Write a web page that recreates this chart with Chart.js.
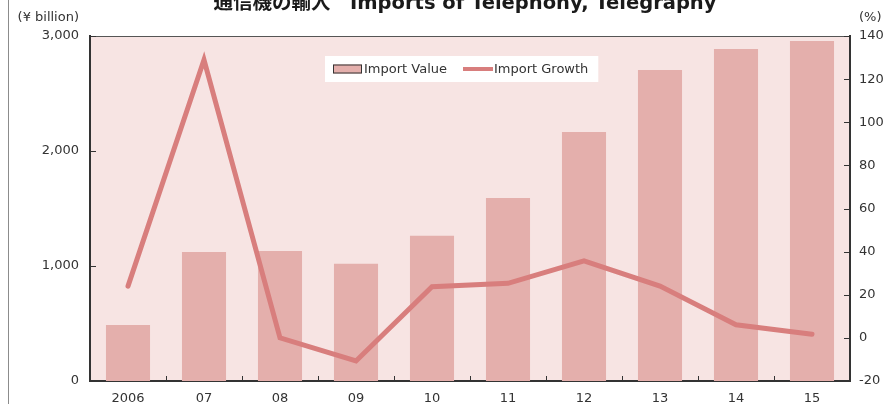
<!DOCTYPE html>
<html>
<head>
<meta charset="utf-8">
<script src="https://cdn.jsdelivr.net/npm/chart.js@4/dist/chart.umd.min.js"></script>
<style>
html,body{margin:0;padding:0;background:#ffffff;}
#wrap{position:relative;width:892px;height:404px;overflow:hidden;background:#ffffff;}
#wrap canvas{position:absolute;left:0;top:0;}
#frame{position:absolute;left:8px;top:0;width:1px;height:404px;background:#8c8c8c;}
</style>
</head>
<body>
<div id="wrap"><canvas id="c" width="892" height="404"></canvas><div id="frame"></div></div>
<script>
// ---- data ----
const chartTitle = '通信機の輸入\u3000Imports of Telephony, Telegraphy';
const leftUnit = '(¥ billion)';
const rightUnit = '(%)';
const categories = ['2006', '07', '08', '09', '10', '11', '12', '13', '14', '15'];
const importValue = [487, 1122, 1130, 1020, 1263, 1591, 2165, 2704, 2887, 2957];
const importGrowth = [24, 129, 0, -10.7, 23.7, 25.3, 35.7, 24, 6.1, 1.7];
const leftTicks = [0, 1000, 2000, 3000];
const rightTicks = [-20, 0, 20, 40, 60, 80, 100, 120, 140];
const seriesNames = ['Import Value', 'Import Growth'];

// ---- styles ----
const FONT = '"DejaVu Sans", "Noto Sans CJK JP", sans-serif';
const TEXT = '#333333';
const AXIS = '#333333';
const PLOT_BG = '#F7E4E3';
const BAR_COLOR = '#E4AFAC';
const LINE_COLOR = '#D87E7D';

Chart.defaults.font.family = FONT;
Chart.defaults.font.size = 13;
Chart.defaults.color = TEXT;

const decor = {
  id: 'decor',
  beforeDraw(chart) {
    const {ctx, chartArea: a} = chart;
    ctx.save();
    ctx.fillStyle = PLOT_BG;
    ctx.fillRect(a.left, a.top, a.right - a.left, a.bottom - a.top);
    ctx.restore();
  },
  afterDraw(chart) {
    const {ctx, chartArea: a, scales} = chart;
    ctx.save();
    // top border
    ctx.strokeStyle = '#555555';
    ctx.lineWidth = 1;
    ctx.beginPath();
    ctx.moveTo(a.left, a.top + 0.5);
    ctx.lineTo(a.right, a.top + 0.5);
    ctx.stroke();

    // inside tick marks
    ctx.strokeStyle = AXIS;
    ctx.lineWidth = 1;
    ctx.beginPath();
    scales.y.ticks.forEach(t => {
      const py = Math.round(scales.y.getPixelForValue(t.value)) + 0.5;
      ctx.moveTo(a.left, py); ctx.lineTo(a.left + 6, py);
    });
    scales.y1.ticks.forEach(t => {
      const py = Math.round(scales.y1.getPixelForValue(t.value)) + 0.5;
      ctx.moveTo(a.right, py); ctx.lineTo(a.right - 6, py);
    });
    const xs = scales.x;
    for (let i = 0; i < categories.length - 1; i++) {
      const px = Math.round((xs.getPixelForTick(i) + xs.getPixelForTick(i + 1)) / 2) + 0.5;
      ctx.moveTo(px, a.bottom); ctx.lineTo(px, a.bottom - 5);
    }
    ctx.stroke();

    // title (clipped at top like the reference)
    ctx.fillStyle = '#1a1a1a';
    ctx.font = 'bold 19.5px ' + FONT;
    ctx.textAlign = 'center';
    ctx.textBaseline = 'alphabetic';
    ctx.fillText(chartTitle, (a.left + a.right) / 2 - 5, 9);

    // axis units
    ctx.fillStyle = TEXT;
    ctx.font = '13px ' + FONT;
    ctx.textBaseline = 'middle';
    ctx.textAlign = 'right';
    ctx.fillText(leftUnit, a.left - 11, 18);
    ctx.textAlign = 'left';
    ctx.fillText(rightUnit, a.right + 9, 18);

    // legend box inside plot area
    const ds = chart.data.datasets;
    const sw = 29, gapT = 2, gapItem = 16, padL = 8, padR = 10;
    const w0 = ctx.measureText(ds[0].label).width;
    const w1 = ctx.measureText(ds[1].label).width;
    const boxW = padL + sw + gapT + w0 + gapItem + sw + gapT + w1 + padR;
    const boxL = a.left + 235, boxT = a.top + 20, boxH = 26;
    const cy = boxT + boxH / 2;
    ctx.fillStyle = '#ffffff';
    ctx.fillRect(boxL, boxT, boxW, boxH);
    let x = boxL + padL;
    ctx.fillStyle = ds[0].backgroundColor;
    ctx.fillRect(x, cy - 4.5, sw, 9);
    ctx.strokeStyle = '#333333';
    ctx.lineWidth = 1;
    ctx.strokeRect(x + 0.5, cy - 4.5 + 0.5, sw - 1, 9 - 1);
    x += sw + gapT;
    ctx.fillStyle = TEXT;
    ctx.textAlign = 'left';
    ctx.textBaseline = 'middle';
    ctx.fillText(ds[0].label, x, cy + 0.5);
    x += w0 + gapItem;
    ctx.strokeStyle = ds[1].borderColor;
    ctx.lineWidth = 4;
    ctx.beginPath();
    ctx.moveTo(x, cy); ctx.lineTo(x + sw + 1, cy);
    ctx.stroke();
    x += sw + gapT;
    ctx.fillText(ds[1].label, x, cy + 0.5);
    ctx.restore();
  }
};

new Chart(document.getElementById('c'), {
  data: {
    labels: categories,
    datasets: [
      {
        type: 'bar',
        label: seriesNames[0],
        data: importValue,
        yAxisID: 'y',
        backgroundColor: BAR_COLOR,
        borderWidth: 0,
        barPercentage: 0.58,
        categoryPercentage: 1.0,
        order: 1
      },
      {
        type: 'line',
        label: seriesNames[1],
        data: importGrowth,
        yAxisID: 'y1',
        borderColor: LINE_COLOR,
        backgroundColor: LINE_COLOR,
        borderWidth: 5,
        borderCapStyle: 'round',
        borderJoinStyle: 'miter',
        pointRadius: 0,
        tension: 0,
        fill: false,
        order: 0
      }
    ]
  },
  options: {
    responsive: false,
    animation: false,
    devicePixelRatio: 1,
    layout: {padding: {top: 36, left: 0, right: 0, bottom: 0}},
    plugins: {legend: {display: false}, title: {display: false}, tooltip: {enabled: false}},
    scales: {
      x: {
        type: 'category',
        offset: true,
        z: 1,
        grid: {display: false, drawTicks: false},
        border: {display: true, color: AXIS, width: 2},
        ticks: {color: TEXT, padding: 10, maxRotation: 0, autoSkip: false},
        afterFit(s) { s.height = 23; }
      },
      y: {
        position: 'left',
        min: 0, max: 3000,
        z: 1,
        grid: {display: false, drawTicks: false},
        border: {display: true, color: AXIS, width: 2},
        ticks: {color: TEXT, padding: 11, callback: v => Number(v).toLocaleString('en-US')},
        afterBuildTicks(s) { s.ticks = leftTicks.map(v => ({value: v})); },
        afterFit(s) { s.width = 90; }
      },
      y1: {
        position: 'right',
        min: -20, max: 140,
        z: 1,
        grid: {display: false, drawTicks: false},
        border: {display: true, color: AXIS, width: 2},
        ticks: {color: TEXT, padding: 9},
        afterBuildTicks(s) { s.ticks = rightTicks.map(v => ({value: v})); },
        afterFit(s) { s.width = 42; }
      }
    }
  },
  plugins: [decor]
});
</script>
</body>
</html>
